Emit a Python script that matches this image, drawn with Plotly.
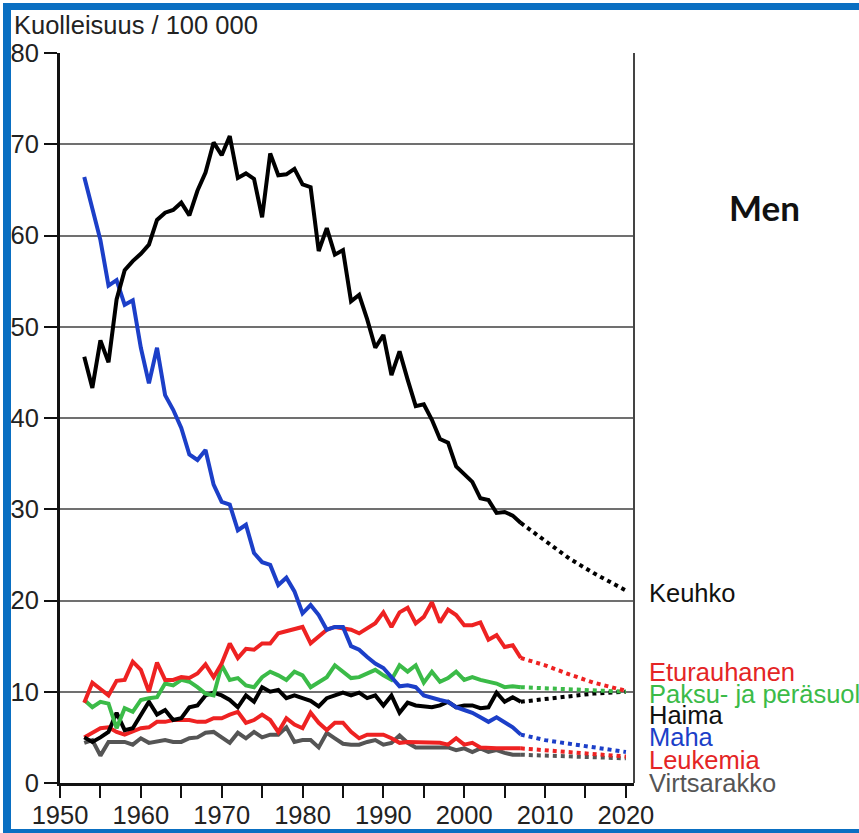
import plotly.graph_objects as go

# Observed mortality per 100 000 men, 1953-2007
years = list(range(1953, 2008))

keuhko = [46.7, 43.3, 48.5, 46.1, 53.0, 56.2, 57.2, 58.0, 59.0, 61.7,
          62.5, 62.8, 63.6, 62.2, 64.9, 66.9, 70.2, 68.8, 70.9, 66.3,
          66.8, 66.2, 62.0, 69.0, 66.6, 66.7, 67.3, 65.6, 65.3, 58.3,
          60.8, 57.9, 58.4, 52.8, 53.5, 50.8, 47.7, 49.1, 44.7, 47.3,
          44.2, 41.3, 41.5, 39.8, 37.7, 37.3, 34.7, 33.8, 33.0, 31.2,
          31.0, 29.6, 29.7, 29.3, 28.5]

eturauhanen = [8.8, 11.0, 10.3, 9.6, 11.2, 11.3, 13.3, 12.4, 10.0, 13.2,
               11.3, 11.3, 11.6, 11.5, 12.0, 13.0, 11.6, 13.1, 15.3, 13.7,
               14.7, 14.6, 15.3, 15.3, 16.4, 16.6, 16.8, 17.1, 15.3, 16.0,
               16.8, 17.1, 17.0, 16.8, 16.4, 16.9, 17.5, 18.7, 17.1, 18.7,
               19.2, 17.5, 18.2, 19.8, 17.6, 19.0, 18.4, 17.3, 17.3, 17.6,
               15.7, 16.2, 14.9, 15.1, 13.7]

paksusuoli = [9.1, 8.3, 8.9, 8.7, 6.0, 8.2, 7.8, 9.1, 9.3, 9.4,
              10.9, 10.7, 11.3, 11.1, 10.5, 9.8, 9.6, 12.9, 11.3, 11.5,
              10.7, 10.5, 11.6, 12.2, 11.8, 11.3, 12.2, 11.8, 10.5, 11.1,
              11.6, 12.9, 12.2, 11.5, 11.6, 12.0, 12.4, 11.8, 11.3, 12.9,
              12.2, 12.9, 11.0, 12.2, 11.1, 11.5, 12.2, 11.3, 11.6, 11.3,
              11.1, 10.9, 10.5, 10.6, 10.5]

haima = [5.0, 4.5, 5.0, 5.6, 7.7, 5.8, 6.0, 7.5, 8.9, 7.5,
         8.0, 6.9, 7.1, 8.3, 8.5, 9.6, 9.9, 9.6, 9.1, 8.3,
         9.6, 8.9, 10.5, 10.0, 10.2, 9.3, 9.6, 9.3, 9.0, 8.4,
         9.3, 9.6, 9.9, 9.6, 9.9, 9.3, 9.6, 8.5, 9.6, 7.7,
         8.8, 8.5, 8.4, 8.3, 8.5, 8.9, 8.3, 8.5, 8.5, 8.2,
         8.3, 9.9, 8.9, 9.4, 8.9]

maha = [66.4, 63.1, 59.5, 54.5, 55.1, 52.4, 52.9, 47.7, 43.8, 47.7,
        42.5, 40.9, 38.9, 36.0, 35.4, 36.5, 32.7, 30.8, 30.5, 27.7,
        28.3, 25.2, 24.2, 23.9, 21.7, 22.5, 21.0, 18.6, 19.5, 18.4,
        16.8, 17.1, 17.1, 15.0, 14.6, 13.8, 13.1, 12.6, 11.6, 10.6,
        10.7, 10.5, 9.6, 9.3, 9.1, 8.9, 8.3, 8.0, 7.7, 7.2,
        6.7, 7.2, 6.6, 6.1, 5.3]

leukemia = [5.0, 5.5, 6.0, 6.1, 5.6, 5.3, 5.6, 6.0, 6.1, 6.7,
            6.7, 6.9, 6.9, 6.9, 6.7, 6.7, 7.1, 7.1, 7.5, 7.8,
            6.6, 6.9, 7.5, 6.9, 5.6, 7.1, 6.4, 6.0, 7.7, 6.6,
            5.8, 6.6, 6.6, 5.6, 4.9, 5.3, 5.3, 5.3, 4.9, 4.4,
            4.5, 4.5, 4.4, 4.4, 4.4, 4.2, 4.9, 4.2, 4.4, 3.9,
            3.8, 3.8, 3.8, 3.8, 3.8]

virtsarakko = [4.4, 4.7, 3.0, 4.5, 4.5, 4.5, 4.2, 4.9, 4.4, 4.5,
               4.7, 4.5, 4.5, 4.9, 5.0, 5.5, 5.6, 5.0, 4.4, 5.5,
               4.9, 5.6, 5.0, 5.3, 5.3, 6.1, 4.5, 4.7, 4.7, 3.9,
               5.5, 4.9, 4.3, 4.2, 4.2, 4.5, 4.7, 4.2, 4.4, 5.2,
               4.4, 3.9, 3.9, 3.9, 3.8, 3.9, 3.6, 3.8, 3.4, 3.8,
               3.4, 3.6, 3.3, 3.1, 3.1]

# Projections 2007-2020
proj_years = [2007, 2010, 2013, 2016, 2020]
keuhko_proj = [28.5, 26.6, 24.6, 23.0, 21.1]
eturauhanen_proj = [13.7, 12.9, 11.9, 11.0, 10.1]
paksusuoli_proj = [10.5, 10.4, 10.3, 10.2, 10.0]
haima_proj = [8.9, 9.2, 9.5, 9.8, 10.0]
maha_proj = [5.3, 4.7, 4.3, 3.9, 3.4]
leukemia_proj = [3.8, 3.6, 3.4, 3.1, 2.9]
virtsarakko_proj = [3.1, 3.0, 2.9, 2.8, 2.7]

labels = ["Keuhko", "Eturauhanen", "Paksu- ja peräsuoli", "Haima",
          "Maha", "Leukemia", "Virtsarakko"]

RED = "#ee2222"
GREEN = "#3bbb48"
BLUE = "#1c3fc8"
BLACK = "#000000"
GRAY = "#555555"

series = [
    # (observed, projection, line colour)
    (virtsarakko, virtsarakko_proj, GRAY),
    (leukemia, leukemia_proj, RED),
    (haima, haima_proj, BLACK),
    (paksusuoli, paksusuoli_proj, GREEN),
    (eturauhanen, eturauhanen_proj, RED),
    (maha, maha_proj, BLUE),
    (keuhko, keuhko_proj, BLACK),
]

fig = go.Figure()
for obs, proj, col in series:
    fig.add_trace(go.Scatter(x=years, y=obs, mode="lines",
                             line=dict(color=col, width=4), showlegend=False,
                             hoverinfo="skip"))
    fig.add_trace(go.Scatter(x=proj_years, y=proj, mode="lines",
                             line=dict(color=col, width=4, dash="4px,4px"),
                             showlegend=False, hoverinfo="skip"))

# Label placement (y in data units) and colours of the series names
label_y = [20.8, 12.2, 9.8, 7.5, 5.0, 2.5, 0.0]
label_col = ["#111111", "#e42525", "#3bbb48", "#111111", "#1c3fc8", "#e42525", "#555555"]

FONT = "Liberation Sans, Arial, sans-serif"
FS = 25.5

annotations = []
for txt, yv, col in zip(labels, label_y, label_col):
    annotations.append(dict(x=1.0226, xref="paper", y=yv, yref="y", text=txt,
                            showarrow=False, xanchor="left", yanchor="middle",
                            font=dict(family=FONT, size=FS, color=col)))

annotations.append(dict(x=-0.0836, xref="paper", y=1.039, yref="paper",
                        text="Kuolleisuus / 100 000", showarrow=False,
                        xanchor="left", yanchor="middle",
                        font=dict(family=FONT, size=FS, color="#222222")))

annotations.append(dict(x=1.2282, xref="paper", y=0.789, yref="paper",
                        text="<b>Men</b>", showarrow=False,
                        xanchor="center", yanchor="middle",
                        font=dict(family="Lato", size=35, color="#111111")))

# Page frame and right plot border
L, T, B = 60.0, 53.0, 783.0
PW, PH = 574.0, 730.0


def px_x(p):
    return (p - L) / PW


def px_y(p):
    return (B - p) / PH


FRAME = "#0a6fc2"
shapes = [
    dict(type="rect", xref="paper", yref="paper", x0=px_x(3), x1=px_x(11),
         y0=px_y(3), y1=px_y(833), fillcolor=FRAME, line=dict(width=0)),
    dict(type="rect", xref="paper", yref="paper", x0=px_x(3), x1=px_x(859),
         y0=px_y(3), y1=px_y(10), fillcolor=FRAME, line=dict(width=0)),
    dict(type="rect", xref="paper", yref="paper", x0=px_x(3), x1=px_x(859),
         y0=px_y(829), y1=px_y(833), fillcolor=FRAME, line=dict(width=0)),
    dict(type="line", xref="paper", yref="paper", x0=1.0, x1=1.0,
         y0=0, y1=1, line=dict(color="#444444", width=2)),
]

xt = list(range(1950, 2021, 5))
xt_text = [str(v) if v % 10 == 0 else "" for v in xt]

fig.update_layout(
    width=859, height=833,
    margin=dict(l=60, r=225, t=53, b=50, autoexpand=False),
    paper_bgcolor="white", plot_bgcolor="white",
    annotations=annotations, shapes=shapes,
    xaxis=dict(range=[1950, 2021], tickmode="array", tickvals=xt, ticktext=xt_text,
               ticks="outside", ticklen=12, tickwidth=2, tickcolor="#111111",
               ticklabelstandoff=-5, automargin=False,
               showline=True, linecolor="#111111", linewidth=3, showgrid=False,
               zeroline=False, tickfont=dict(family=FONT, size=FS, color="#222222")),
    yaxis=dict(range=[0, 80], tickmode="array", tickvals=list(range(0, 81, 10)),
               ticks="outside", ticklen=13, tickwidth=2, tickcolor="#111111",
               automargin=False,
               showline=True, linecolor="#111111", linewidth=3,
               showgrid=True, gridcolor="#707070", gridwidth=2, zeroline=False,
               tickfont=dict(family=FONT, size=FS, color="#222222")),
)

fig.write_html("out.html")
